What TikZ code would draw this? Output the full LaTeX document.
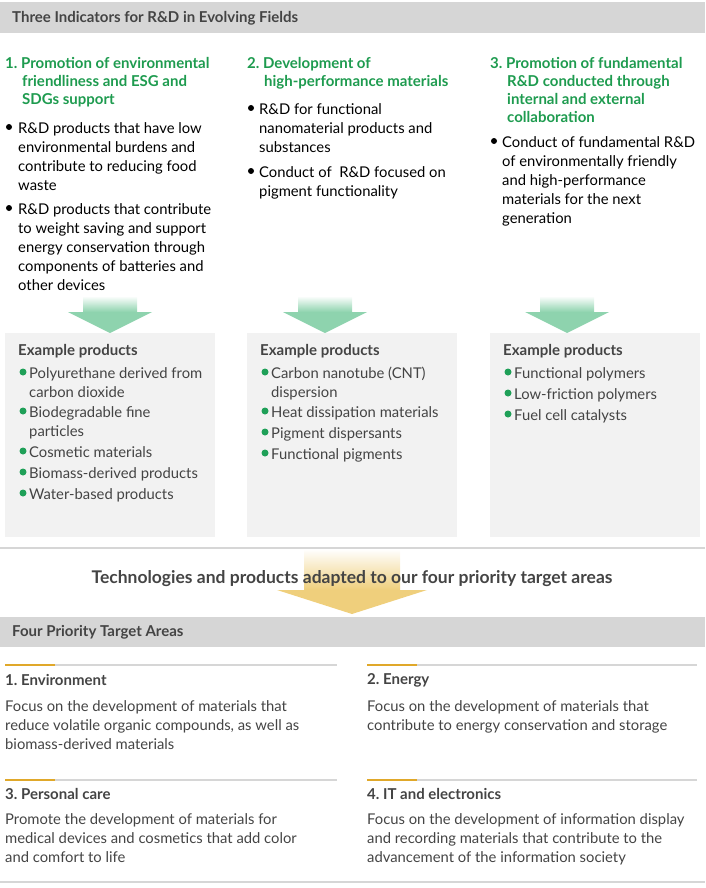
\documentclass[tikz,border=0pt]{standalone}
\usepackage{fontspec}
\setmainfont{Lato}
\usetikzlibrary{positioning}
\definecolor{barGray}{HTML}{D6D6D6}
\definecolor{boxGray}{HTML}{F2F2F2}
\definecolor{txtGray}{HTML}{444444}
\definecolor{headGreen}{HTML}{1E9B4F}
\definecolor{dotGreen}{HTML}{1FA058}
\definecolor{arrGreen}{HTML}{8ED3AE}
\definecolor{arrGold}{HTML}{EFCF7C}
\definecolor{lineGold}{HTML}{E0A82A}
\tikzset{
  body/.style={anchor=north west, inner sep=0pt, align=left, text=black,
    font=\fontsize{14.8}{19}\selectfont},
  head/.style={anchor=north west, inner sep=0pt, align=left, text=headGreen,
    font=\bfseries\fontsize{15}{18}\selectfont},
  bartitle/.style={anchor=west, inner sep=0pt, text=txtGray,
    font=\bfseries\fontsize{15}{18}\selectfont},
  areahead/.style={anchor=west, inner sep=0pt, text=txtGray,
    font=\bfseries\fontsize{15}{18}\selectfont},
  item/.style={body, text=txtGray},
  dot/.style={circle, fill=#1, inner sep=0pt, minimum size=7pt},
}
\begin{document}
\begin{tikzpicture}[x=1pt,y=-1pt]
  \useasboundingbox (0,0) rectangle (705,888);
  % top bar
  \fill[barGray] (0,2) rectangle (705,33);
  \node[bartitle] (title) at (12,18) {Three Indicators for R\&D in Evolving Fields};

  % column headings
  \node[head] (h1) at (5,57) {1.\ Promotion of environmental\\\hspace*{17pt}friendliness and ESG and\\\hspace*{17pt}SDGs support};
  \node[head] (h2) at (247,57) {2.\ Development of\\\hspace*{17pt}high-performance materials};
  \node[head] (h3) at (490,57) {3.\ Promotion of fundamental\\\hspace*{17pt}R\&D conducted through\\\hspace*{17pt}internal and external\\\hspace*{17pt}collaboration};

  % bullets
  \foreach \x/\y in {9/127,9/208,251/108,251/171,494/141}
    \node[dot=black, minimum size=6pt] at (\x,\y) {};
  \node[body] (b1a) at (18,122) {R\&D products that have low\\environmental burdens and\\contribute to reducing food\\waste};
  \node[body] (b1b) at (18,203) {R\&D products that contribute\\to weight saving and support\\energy conservation through\\components of batteries and\\other devices};
  \node[body] (b2a) at (259,103) {R\&D for functional\\nanomaterial products and\\substances};
  \node[body] (b2b) at (259,166) {Conduct of\ \ R\&D focused on\\pigment functionality};
  \node[body] (b3a) at (502,136) {Conduct of fundamental R\&D\\of environmentally friendly\\and high-performance\\materials for the next\\generation};

  % green arrows
  \foreach \c in {110,325,567} {
    \shade[top color=white, bottom color=arrGreen]
      (\c-27,296) rectangle (\c+27,312);
    \fill[arrGreen] (\c-42,312) -- (\c+42,312) -- (\c,333) -- cycle;
  }

  % example boxes
  \foreach \x in {5,247,490}
    \fill[boxGray] (\x,333) rectangle (\x+210,537);
  \foreach \x in {18,260,503}
    \node[areahead, anchor=west] at (\x,351) {Example products};
  \foreach \x/\y in {23/372,23/411,23/451,23/472,23/493,
                     265/372,265/411,265/432,265/453,
                     508/372,508/393,508/414}
    \node[dot=dotGreen] at (\x,\y) {};
  \node[item] (e1) at (29,367) {Polyurethane derived from\\carbon dioxide};
  \node[item] (e2) at (29,406) {Biodegradable fine\\particles};
  \node[item] (e3) at (29,446) {Cosmetic materials};
  \node[item] (e4) at (29,467) {Biomass-derived products};
  \node[item] (e5) at (29,488) {Water-based products};
  \node[item] (f1) at (271,367) {Carbon nanotube (CNT)\\dispersion};
  \node[item] (f2) at (271,406) {Heat dissipation materials};
  \node[item] (f3) at (271,427) {Pigment dispersants};
  \node[item] (f4) at (271,448) {Functional pigments};
  \node[item] (g1) at (514,367) {Functional polymers};
  \node[item] (g2) at (514,388) {Low-friction polymers};
  \node[item] (g3) at (514,409) {Fuel cell catalysts};

  % separator and gold arrow
  \draw[barGray, line width=2pt] (0,548) -- (705,548);
  \shade[top color=white, bottom color=arrGold] (304,549) rectangle (400,590);
  \fill[arrGold] (277,590) -- (427,590) -- (352,614) -- cycle;
  \node[areahead, anchor=center, font=\bfseries\fontsize{17.5}{20}\selectfont]
    (tech) at (352,579) {Technologies and products adapted to our four priority target areas};

  % second bar
  \fill[barGray] (0,617) rectangle (705,647);
  \node[bartitle] (title2) at (12,632) {Four Priority Target Areas};

  % area rules
  \foreach \x/\w/\y in {5/332/665,367/330/665,5/332/780,367/330/780} {
    \draw[barGray, line width=1.5pt] (\x,\y) -- (\x+\w,\y);
    \draw[lineGold, line width=1.5pt] (\x,\y) -- (\x+50,\y);
  }
  \node[areahead] (a1) at (5,680) {1.\ Environment};
  \node[areahead] (a2) at (367,680) {2.\ Energy};
  \node[areahead] (a3) at (5,794) {3.\ Personal care};
  \node[areahead] (a4) at (367,794) {4.\ IT and electronics};
  \node[item] (t1) at (5,700) {Focus on the development of materials that\\reduce volatile organic compounds, as well as\\biomass-derived materials};
  \node[item] (t2) at (367,700) {Focus on the development of materials that\\contribute to energy conservation and storage};
  \node[item] (t3) at (5,813) {Promote the development of materials for\\medical devices and cosmetics that add color\\and comfort to life};
  \node[item] (t4) at (367,813) {Focus on the development of information display\\and recording materials that contribute to the\\advancement of the information society};

  % bottom rule
  \draw[barGray, line width=2pt] (0,882) -- (705,882);
\end{tikzpicture}
\end{document}
